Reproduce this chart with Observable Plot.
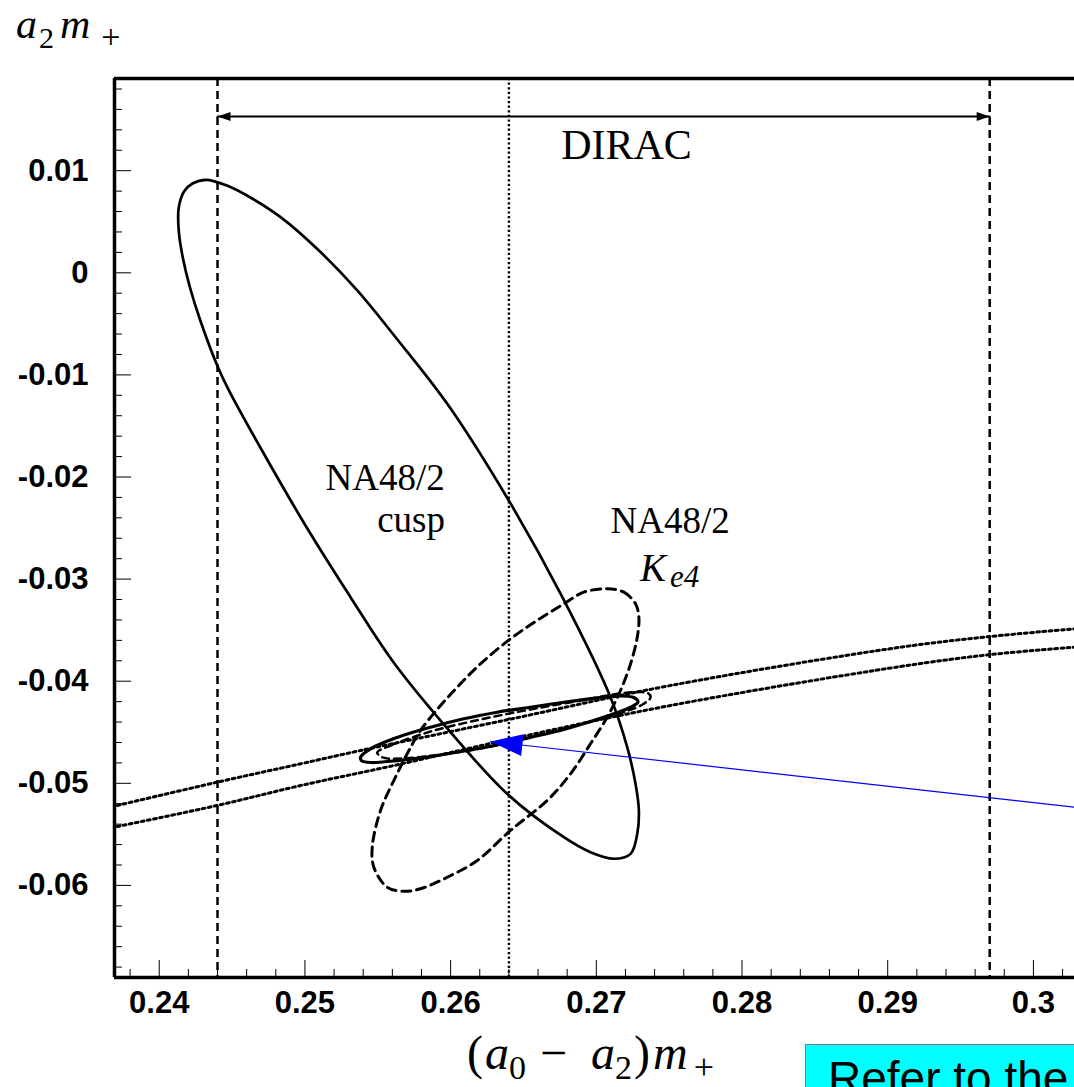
<!DOCTYPE html>
<html>
<head>
<meta charset="utf-8">
<script src="https://cdn.jsdelivr.net/npm/d3@7"></script>
<script src="https://cdn.jsdelivr.net/npm/@observablehq/plot@0.6"></script>
<style>
html, body { margin: 0; padding: 0; overflow: hidden; background: #fff; width: 1074px; height: 1087px; }
#wrap { position: relative; width: 1074px; height: 1087px; }
#note { position: absolute; left: 805px; top: 1044px; width: 420px; height: 100px; background: #00ffff;
  border: 1px solid #7f7f7f; box-sizing: border-box; font-family: "Liberation Sans", Arial, sans-serif;
  font-size: 46px; line-height: 46px; padding: 10px 0 0 22px; white-space: nowrap; color: #000; }
</style>
</head>
<body>
<div id="wrap"></div>
<script>
// ---------- axes ----------
const xDomain = [0.23693, 0.30282];
const yDomain = [-0.06902, 0.01903];
const xMajorTicks = [0.24, 0.25, 0.26, 0.27, 0.28, 0.29, 0.30];
const yMajorTicks = [0.01, 0, -0.01, -0.02, -0.03, -0.04, -0.05, -0.06];
const xMinorTicks = d3.range(0.238, 0.3029, 0.002).filter(v => Math.abs(v * 100 - Math.round(v * 100)) > 1e-6);
const yMinorTicks = d3.range(-0.068, 0.0191, 0.002).filter(v => Math.abs(v * 100 - Math.round(v * 100)) > 1e-6);

// ---------- DIRAC ----------
const diracLimits = [0.244, 0.297];
const centralValue = [0.264];
const diracSpan = [[0.244, 0.01531], [0.297, 0.01531]];

// ---------- NA48/2 cusp contour (solid, large) ----------
const cuspContour = [
  [0.24321, 0.00911], [0.24465, 0.00855], [0.24623, 0.00740], [0.24833, 0.00545],
  [0.25096, 0.00218], [0.25359, -0.00173], [0.25622, -0.00631], [0.25977, -0.01283],
  [0.26399, -0.02230], [0.26768, -0.03180], [0.27097, -0.04157], [0.27212, -0.04646],
  [0.27269, -0.05005], [0.27292, -0.05266], [0.27281, -0.05495], [0.27235, -0.05691],
  [0.27120, -0.05739], [0.26960, -0.05675], [0.26777, -0.05528], [0.26388, -0.05103],
  [0.25931, -0.04385], [0.25599, -0.03797], [0.25313, -0.03177], [0.24970, -0.02394],
  [0.24479, -0.01153], [0.24403, -0.00925], [0.24282, -0.00467], [0.24211, -0.00144],
  [0.24163, 0.00140], [0.24135, 0.00395], [0.24133, 0.00630], [0.24170, 0.00797],
  [0.24228, 0.00875]
];

// ---------- NA48/2 Ke4 contour (dashed) ----------
const ke4Contour = [
  [0.27075, -0.03095], [0.27189, -0.03128], [0.27269, -0.03242], [0.27292, -0.03373],
  [0.27281, -0.03569], [0.27235, -0.03830], [0.27166, -0.04091], [0.27077, -0.04346],
  [0.26960, -0.04613], [0.26823, -0.04907], [0.26663, -0.05168], [0.26411, -0.05462],
  [0.26183, -0.05756], [0.25977, -0.05920], [0.25793, -0.06033], [0.25679, -0.06057],
  [0.25565, -0.06018], [0.25473, -0.05822], [0.25462, -0.05626], [0.25519, -0.05266],
  [0.25610, -0.04973], [0.25702, -0.04711], [0.25793, -0.04483], [0.25931, -0.04238],
  [0.26045, -0.04059], [0.26205, -0.03830], [0.26411, -0.03585], [0.26594, -0.03405],
  [0.26777, -0.03242], [0.26914, -0.03128]
];

// ---------- combined fit contour (solid, narrow) ----------
const combinedContour = [
  [0.25382, -0.04744], [0.25450, -0.04662], [0.25633, -0.04551], [0.25862, -0.04451],
  [0.26091, -0.04368], [0.26320, -0.04304], [0.26548, -0.04255], [0.26777, -0.04206],
  [0.27006, -0.04163], [0.27143, -0.04145], [0.27257, -0.04160], [0.27286, -0.04204],
  [0.27235, -0.04255], [0.27120, -0.04319], [0.26960, -0.04395], [0.26777, -0.04473],
  [0.26548, -0.04551], [0.26320, -0.04625], [0.26091, -0.04684], [0.25862, -0.04738],
  [0.25633, -0.04777], [0.25450, -0.04796], [0.25388, -0.04777]
];

// ---------- combined fit with constraint (dashed, narrow) ----------
const combinedDashedContour = [
  [0.25496, -0.04698], [0.25588, -0.04630], [0.25862, -0.04493], [0.26205, -0.04375],
  [0.26548, -0.04277], [0.26892, -0.04189], [0.27166, -0.04120], [0.27303, -0.04106],
  [0.27358, -0.04120], [0.27372, -0.04160], [0.27317, -0.04228], [0.27200, -0.04297],
  [0.26960, -0.04395], [0.26617, -0.04522], [0.26274, -0.04640], [0.25931, -0.04718],
  [0.25656, -0.04757], [0.25533, -0.04747]
];

// ---------- ChPT band (dotted) ----------
const bandUpper = [
  [0.23712, -0.05217], [0.24398, -0.04989], [0.24970, -0.04809], [0.25382, -0.04679],
  [0.26404, -0.04373], [0.27509, -0.04042], [0.29088, -0.03667], [0.29706, -0.03562],
  [0.30282, -0.03487]
];
const bandLower = [
  [0.23712, -0.05423], [0.24398, -0.05217], [0.24970, -0.05022], [0.25610, -0.04826],
  [0.26404, -0.04569], [0.27509, -0.04238], [0.29088, -0.03856], [0.29706, -0.03739],
  [0.30282, -0.03667]
];

// ---------- blue pointer ----------
const bluePointer = [[0.26274, -0.04591], [0.30282, -0.05234]];

// ---------- labels ----------
const labelText = ["NA48/2", "cusp", "NA48/2"];
const labelX = [0.25141, 0.25496, 0.27097];
const labelY = [-0.02132, -0.02541, -0.02550];
const ke4Label = {x: 0.27300, y: -0.03014};
const diracLabel = {text: "DIRAC", x: 0.27207, y: 0.01119};

// ---------- layout ----------
const W = 1074, H = 1087;
const mLeft = 114, mRight = 0, mTop = 78, mBottom = 110;
const innerW = W - mLeft - mRight, innerH = H - mTop - mBottom;
const fmt = d => String(+d.toFixed(3));

const bigHead = {draw(ctx) { ctx.moveTo(0, 0); ctx.lineTo(-11, 32); ctx.lineTo(11, 32); ctx.closePath(); }};
const smallHead = {draw(ctx) { ctx.moveTo(0, 0); ctx.lineTo(-4.5, 13); ctx.lineTo(4.5, 13); ctx.closePath(); }};

const serif = "Liberation Serif, Times New Roman, serif";
const xy = {x: d => d[0], y: d => d[1]};

const plot = Plot.plot({
  width: W, height: H,
  marginLeft: mLeft, marginRight: mRight, marginTop: mTop, marginBottom: mBottom,
  x: {domain: xDomain},
  y: {domain: yDomain},
  style: {background: "white", color: "black", fontFamily: "Liberation Sans, Arial, sans-serif", overflow: "hidden"},
  marks: [
    Plot.ruleX(diracLimits, {stroke: "black", strokeWidth: 2.5, strokeDasharray: "8,5"}),
    Plot.ruleX(centralValue, {stroke: "black", strokeWidth: 2.4, strokeDasharray: "2.2,2.4"}),
    Plot.line(bandUpper, {...xy, curve: "catmull-rom", stroke: "black", strokeWidth: 3, strokeDasharray: "2.8,3.4", clip: true}),
    Plot.line(bandLower, {...xy, curve: "catmull-rom", stroke: "black", strokeWidth: 3, strokeDasharray: "2.8,3.4", clip: true}),
    Plot.line(cuspContour, {...xy, curve: "catmull-rom-closed", stroke: "black", strokeWidth: 2.7}),
    Plot.line(ke4Contour, {...xy, curve: "catmull-rom-closed", stroke: "black", strokeWidth: 3, strokeDasharray: "9,6"}),
    Plot.line(combinedDashedContour, {...xy, curve: "catmull-rom-closed", stroke: "black", strokeWidth: 2.5, strokeDasharray: "7,5"}),
    Plot.line(combinedContour, {...xy, curve: "catmull-rom-closed", stroke: "black", strokeWidth: 3.2}),
    Plot.line(bluePointer, {...xy, stroke: "#0000ff", strokeWidth: 1.2, clip: true}),
    Plot.dot(bluePointer.slice(0, 1), {...xy, symbol: bigHead, rotate: -83.6, fill: "#0000ff", stroke: "none"}),
    Plot.line(diracSpan, {...xy, stroke: "black", strokeWidth: 1.8}),
    Plot.dot(diracSpan, {...xy, symbol: smallHead, rotate: (d, i) => (i === 0 ? -90 : 90), fill: "black", stroke: "none"}),
    Plot.text(labelText, {x: (d, i) => labelX[i], y: (d, i) => labelY[i], text: d => d, textAnchor: "start", lineAnchor: "bottom", fontFamily: serif, fontSize: 37, fill: "black"}),
    Plot.text([ke4Label], {x: "x", y: "y", text: () => "K", textAnchor: "start", lineAnchor: "bottom", fontFamily: serif, fontStyle: "italic", fontSize: 39, fill: "black"}),
    Plot.text([ke4Label], {x: "x", y: "y", text: () => "e4", dx: 30, dy: 6, textAnchor: "start", lineAnchor: "bottom", fontFamily: serif, fontStyle: "italic", fontSize: 31, fill: "black"}),
    Plot.text([diracLabel], {x: "x", y: "y", text: "text", textAnchor: "middle", lineAnchor: "bottom", fontFamily: serif, fontSize: 42, fill: "black"}),
    Plot.tickX(xMinorTicks, {x: d => d, insetTop: innerH - 8, stroke: "black", strokeWidth: 1}),
    Plot.tickX(xMajorTicks, {x: d => d, insetTop: innerH - 17, stroke: "black", strokeWidth: 1}),
    Plot.tickY(yMinorTicks, {y: d => d, insetRight: innerW - 8, stroke: "black", strokeWidth: 1}),
    Plot.tickY(yMajorTicks, {y: d => d, insetRight: innerW - 17, stroke: "black", strokeWidth: 1}),
    Plot.axisX({ticks: xMajorTicks, tickSize: 0, tickPadding: 13, tickFormat: fmt, fontSize: 31, fontWeight: "bold", label: null}),
    Plot.axisY({ticks: yMajorTicks, tickSize: 0, tickPadding: 26, tickFormat: fmt, fontSize: 31, fontWeight: "bold", label: null}),
    Plot.ruleX([xDomain[0]], {stroke: "black", strokeWidth: 3.5}),
    Plot.ruleY([yDomain[0]], {stroke: "black", strokeWidth: 3.5}),
    Plot.ruleY([yDomain[1]], {stroke: "black", strokeWidth: 3.5})
  ]
});

// ---------- axis titles (math-style, one text element each) ----------
const svg = d3.select(plot);
function mathTitle(parts, x0, baseline) {
  const t = svg.append("text").attr("x", x0).attr("y", baseline)
    .attr("text-anchor", "start")
    .style("font-family", serif).attr("fill", "black");
  let level = 0;
  for (const [s, kind, dx, size] of parts) {
    const target = kind === "s" ? 10 : 0;
    t.append("tspan")
      .attr("dx", dx)
      .attr("dy", target - level)
      .style("font-size", size + "px")
      .style("font-style", kind === "i" ? "italic" : "normal")
      .text(s);
    level = target;
  }
}
const yTitleParts = [["a", "i", 0, 42], ["2", "s", 2, 30], ["m", "i", 6, 42], ["+", "s", 11, 34]];
const xTitleParts = [["(", "r", 0, 48], ["a", "i", 2, 48], ["0", "s", 0, 34], ["\u2212", "r", 14, 48],
                     ["a", "i", 24, 48], ["2", "s", 0, 34], [")", "r", 2, 48], ["m", "i", 3, 48], ["+", "s", 6, 36]];
mathTitle(yTitleParts, 16, 37.5);
mathTitle(xTitleParts, 467, 1069);

const wrap = document.getElementById("wrap");
wrap.appendChild(plot);
plot.style.position = "absolute";
plot.style.left = "0px";
plot.style.top = "0px";
const note = document.createElement("div");
note.id = "note";
note.textContent = "Refer to the";
wrap.appendChild(note);
</script>
</body>
</html>
